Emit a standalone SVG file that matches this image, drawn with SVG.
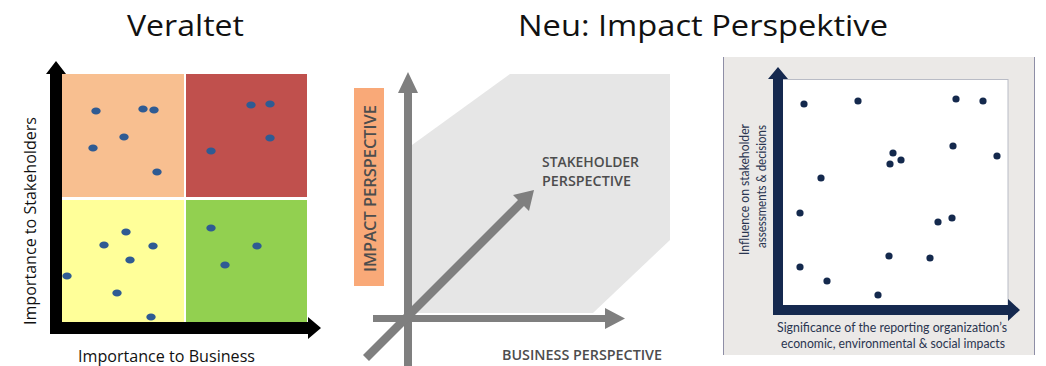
<svg xmlns="http://www.w3.org/2000/svg" width="1046" height="366" viewBox="0 0 1046 366">
<defs>
<style>
.title{font-family:"Open Sans","Liberation Sans",sans-serif;font-size:30px;fill:#111}
.lbl1{font-family:"Open Sans","Liberation Sans",sans-serif;font-size:16px;fill:#111}
.d1{fill:#2f5b93}
.d3{fill:#14294d}
.cap{font-family:"Open Sans","Liberation Sans",sans-serif;font-size:15px;font-weight:600;fill:#4d4d4d}
.gil{font-family:"Lato","Liberation Sans",sans-serif;font-size:12.5px;fill:#2a3550}
</style>
</defs>
<rect width="1046" height="366" fill="#fff"/>

<g id="titles">
<text class="title" x="127" y="36" textLength="117" lengthAdjust="spacingAndGlyphs">Veraltet</text>
<text class="title" x="518" y="36" textLength="370" lengthAdjust="spacingAndGlyphs">Neu: Impact Perspektive</text>
</g>

<!-- Left matrix -->
<g id="matrix-left">
<rect x="62" y="74" width="122" height="123" fill="#f8bf90"/>
<rect x="186" y="74" width="121" height="123" fill="#c0504d"/>
<rect x="62" y="200" width="122" height="122" fill="#ffff99"/>
<rect x="186" y="200" width="121" height="122" fill="#92d050"/>
<g class="d1">
<ellipse cx="96" cy="111" rx="4.7" ry="3.5"/>
<ellipse cx="143" cy="109" rx="4.7" ry="3.5"/>
<ellipse cx="154" cy="110" rx="4.7" ry="3.5"/>
<ellipse cx="124" cy="137" rx="4.7" ry="3.5"/>
<ellipse cx="93" cy="148" rx="4.7" ry="3.5"/>
<ellipse cx="157" cy="172" rx="4.7" ry="3.5"/>
<ellipse cx="251" cy="105" rx="4.7" ry="3.5"/>
<ellipse cx="270" cy="104" rx="4.7" ry="3.5"/>
<ellipse cx="270" cy="138" rx="4.7" ry="3.5"/>
<ellipse cx="211" cy="151" rx="4.7" ry="3.5"/>
<ellipse cx="126" cy="232" rx="4.7" ry="3.5"/>
<ellipse cx="104" cy="245" rx="4.7" ry="3.5"/>
<ellipse cx="153" cy="246" rx="4.7" ry="3.5"/>
<ellipse cx="130" cy="260" rx="4.7" ry="3.5"/>
<ellipse cx="67" cy="276" rx="4.7" ry="3.5"/>
<ellipse cx="117" cy="293" rx="4.7" ry="3.5"/>
<ellipse cx="151" cy="317" rx="4.7" ry="3.5"/>
<ellipse cx="211" cy="228" rx="4.7" ry="3.5"/>
<ellipse cx="257" cy="246" rx="4.7" ry="3.5"/>
<ellipse cx="225" cy="265" rx="4.7" ry="3.5"/>
</g>
<path d="M50,334 V74 H46 L56,61 L66,74 H62 V322 H308 V317 L321,328 L308,339 V334 Z" fill="#000"/>
<text class="lbl1" transform="translate(36,325) rotate(-90)" textLength="208" lengthAdjust="spacingAndGlyphs">Importance to Stakeholders</text>
<text class="lbl1" x="78" y="362" textLength="177" lengthAdjust="spacingAndGlyphs">Importance to Business</text>
</g>

<!-- Middle -->
<g id="matrix-middle">
<polygon points="412,145 510,74 670,74 670,240 593,313 412,313" fill="#e6e6e6"/>
<rect x="354" y="88" width="30" height="198" fill="#f9a978"/>
<text class="cap" transform="translate(376,272) rotate(-90)" textLength="167" lengthAdjust="spacingAndGlyphs" style="font-size:17px">IMPACT PERSPECTIVE</text>
<g fill="#7f7f7f">
<path d="M404,366 V93 H398 L408,72 L418,93 H412 V366 Z"/>
<path d="M373,315 H605 V308 L625,318.5 L605,329 V322 H373 Z"/>
<path d="M363,355 L518,200 L513,195 L534,190 L529,211 L524,206 L369,361 Z"/>
</g>
<text class="cap" x="542" y="167" textLength="97" lengthAdjust="spacingAndGlyphs">STAKEHOLDER</text>
<text class="cap" x="542" y="186" textLength="89" lengthAdjust="spacingAndGlyphs">PERSPECTIVE</text>
<text class="cap" x="502" y="360" textLength="160" lengthAdjust="spacingAndGlyphs">BUSINESS PERSPECTIVE</text>
</g>

<!-- Right -->
<g id="matrix-right">
<rect x="723" y="57" width="312" height="298" fill="#ebe9e7"/>
<line x1="723.5" y1="57" x2="723.5" y2="355" stroke="#8e8ea6" stroke-width="1"/>
<line x1="1034.5" y1="57" x2="1034.5" y2="355" stroke="#8e8ea6" stroke-width="1"/>
<rect x="782" y="79.5" width="226" height="227" fill="#fff" stroke="#b9bcc6" stroke-width="1"/>
<path d="M773,315 V79 H768 L778,67 L788,79 H783 V305 H1008 V299 L1020,310 L1008,321 V315 Z" fill="#15294f"/>
<g class="d3">
<circle cx="804" cy="104" r="3.6"/>
<circle cx="858" cy="101" r="3.6"/>
<circle cx="956" cy="99" r="3.6"/>
<circle cx="983" cy="101" r="3.6"/>
<circle cx="953" cy="146" r="3.6"/>
<circle cx="997" cy="156" r="3.6"/>
<circle cx="893" cy="153" r="3.6"/>
<circle cx="890" cy="164" r="3.6"/>
<circle cx="901" cy="160" r="3.6"/>
<circle cx="821" cy="178" r="3.6"/>
<circle cx="800" cy="213" r="3.6"/>
<circle cx="952" cy="218" r="3.6"/>
<circle cx="938" cy="222" r="3.6"/>
<circle cx="889" cy="256" r="3.6"/>
<circle cx="930" cy="258" r="3.6"/>
<circle cx="800" cy="267" r="3.6"/>
<circle cx="827" cy="281" r="3.6"/>
<circle cx="878" cy="295" r="3.6"/>
</g>
<text class="gil" transform="translate(749,255) rotate(-90)" textLength="131" lengthAdjust="spacingAndGlyphs">Influence on stakeholder</text>
<text class="gil" transform="translate(766,248) rotate(-90)" textLength="123" lengthAdjust="spacingAndGlyphs">assessments &amp; decisions</text>
<text class="gil" x="777" y="332" textLength="230" lengthAdjust="spacingAndGlyphs">Significance of the reporting organization’s</text>
<text class="gil" x="781" y="348" textLength="224" lengthAdjust="spacingAndGlyphs">economic, environmental &amp; social impacts</text>
</g>
</svg>
